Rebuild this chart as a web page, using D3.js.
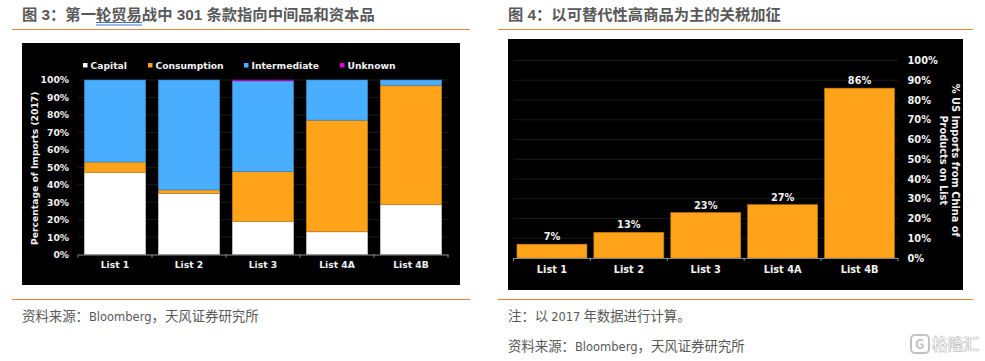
<!DOCTYPE html>
<html>
<head>
<meta charset="utf-8">
<script src="https://cdn.jsdelivr.net/npm/d3@7"></script>
<style>
html, body { margin: 0; padding: 0; background: #fff; }
svg { display: block; }
.cn { font-family: "Noto Sans CJK SC", sans-serif; }
.head { font-family: "Liberation Sans", "Noto Sans CJK SC", sans-serif; }
.latin { font-family: "DejaVu Sans", sans-serif; }
.chart text { font-family: "DejaVu Sans", sans-serif; font-weight: bold; fill: #f2f2f2; }
.left text { font-size: 9.2px; }
.right text { font-size: 9.8px; }
</style>
</head>
<body>
<svg width="985" height="361"></svg>
<script>
const lists = ['List 1', 'List 2', 'List 3', 'List 4A', 'List 4B']
const capital = [47, 35, 19, 13, 28.5]
const consumption = [6, 2, 28.5, 64, 68.5]
const intermediate = [47, 63, 52, 23, 3]
const unknown = [0, 0, 0.5, 0, 0]
const shares = [7, 13, 23, 27, 86]
const ticks = [0, 10, 20, 30, 40, 50, 60, 70, 80, 90, 100]

const seriesNames = ['Capital', 'Consumption', 'Intermediate', 'Unknown']
const seriesColors = ['#ffffff', '#ffa31a', '#4aaeff', '#e600d6']

const svg = d3.select('svg')
const orange = '#e8833a'
const gray = '#595959'

// headings, rules and notes
const heading = (x, y, t) => svg.append('text').attr('class', 'head')
	.attr('x', x).attr('y', y)
	.attr('font-size', 15.3).attr('font-weight', 700).attr('fill', gray)
	.text(t)
const note = (x, y, parts) => {
	const t = svg.append('text').attr('class', 'cn')
		.attr('x', x).attr('y', y)
		.attr('font-size', 13.4).attr('fill', gray)
	parts.forEach(p => {
		const s = t.append('tspan').text(p)
		if (/^[A-Za-z0-9 ]+$/.test(p)) s.attr('class', 'latin').attr('font-size', 11.5)
	})
}
const rule = (x1, x2, y) => svg.append('line')
	.attr('x1', x1).attr('x2', x2).attr('y1', y).attr('y2', y)
	.attr('stroke', orange).attr('stroke-width', 1)

heading(22, 20, '图 3\uFF1A第一轮贸易战中 301 条款指向中间品和资本品')
heading(508, 20, '图 4\uFF1A以可替代性高商品为主的关税加征')
rule(12, 470, 29.5)
rule(498, 973, 29.5)
rule(12, 470, 299.5)
rule(498, 973, 299.5)
note(22, 321, ['资料来源\uFF1A', 'Bloomberg', '\uFF0C天风证券研究所'])
note(508, 321, ['注\uFF1A以 ', '2017', ' 年数据进行计算。'])
note(508, 351, ['资料来源\uFF1A', 'Bloomberg', '\uFF0C天风证券研究所'])

// blue double underline below the linked words
;[22.5, 25].forEach(y => svg.append('line')
	.attr('x1', 96).attr('x2', 142).attr('y1', y).attr('y2', y)
	.attr('stroke', '#2f62c9').attr('stroke-width', 0.9))

const pct = d => d + '%'

// left chart: stacked shares
const left = svg.append('g').attr('class', 'chart left')
left.append('rect').attr('x', 22).attr('y', 43).attr('width', 438).attr('height', 242).attr('fill', '#000')

const x1 = d3.scaleBand().domain(lists).range([78, 448]).paddingInner(0.17).paddingOuter(0.085)
const y1 = d3.scaleLinear().domain([0, 100]).range([254.5, 80])

left.append('g').selectAll('line').data(ticks.slice(1)).enter().append('line')
	.attr('x1', 78).attr('x2', 448)
	.attr('y1', d => y1(d)).attr('y2', d => y1(d))
	.attr('stroke', '#1a1a1a')

const stacked = d3.stack().keys([0, 1, 2, 3])(lists.map((l, i) =>
	[capital[i], consumption[i], intermediate[i], unknown[i]]))

left.append('g').selectAll('g').data(stacked).enter().append('g')
	.attr('fill', (d, i) => seriesColors[i])
	.attr('stroke', (d, i) => d3.color(seriesColors[i]).darker(0.9))
	.attr('stroke-width', 0.6)
	.selectAll('rect').data(d => d).enter().append('rect')
	.attr('x', (d, i) => x1(lists[i]))
	.attr('width', x1.bandwidth())
	.attr('y', d => y1(d[1]))
	.attr('height', d => y1(d[0]) - y1(d[1]))

const xAxis1 = left.append('g').attr('transform', 'translate(0,254.5)')
	.call(d3.axisBottom(x1).tickSize(0).tickPadding(7))
xAxis1.select('.domain').attr('stroke', '#8c8c8c')
d3.range(6).forEach(i => left.append('line')
	.attr('x1', 78 + i * 74).attr('x2', 78 + i * 74).attr('y1', 254.5).attr('y2', 257.5)
	.attr('stroke', '#8c8c8c'))

const yAxis1 = left.append('g').attr('transform', 'translate(73,0)')
	.call(d3.axisLeft(y1).tickValues(ticks).tickFormat(pct).tickSize(0).tickPadding(4))
yAxis1.select('.domain').remove()

left.append('text')
	.attr('transform', `translate(38,${y1(50) + 1}) rotate(-90)`)
	.attr('text-anchor', 'middle')
	.text('Percentage of Imports (2017)')

const legendX = [83, 148, 244, 340]
seriesNames.forEach((n, i) => {
	left.append('rect').attr('x', legendX[i]).attr('y', 63).attr('width', 4.5).attr('height', 4.5).attr('fill', seriesColors[i])
	left.append('text').attr('x', legendX[i] + 7.5).attr('y', 69).text(n)
})

// right chart: single series
const right = svg.append('g').attr('class', 'chart right')
right.append('rect').attr('x', 508).attr('y', 39).attr('width', 455).attr('height', 251).attr('fill', '#000')

const x2 = d3.scaleBand().domain(lists).range([513.5, 898]).paddingInner(0.09).paddingOuter(0.045)
const y2 = d3.scaleLinear().domain([0, 100]).range([258, 60.5])

right.append('g').selectAll('line').data(ticks.slice(1)).enter().append('line')
	.attr('x1', 513.5).attr('x2', 898)
	.attr('y1', d => y2(d)).attr('y2', d => y2(d))
	.attr('stroke', '#1a1a1a')

right.append('g').selectAll('rect').data(shares).enter().append('rect')
	.attr('x', (d, i) => x2(lists[i]))
	.attr('width', x2.bandwidth())
	.attr('y', d => y2(d))
	.attr('height', d => y2(0) - y2(d))
	.attr('fill', seriesColors[1])
	.attr('stroke', d3.color(seriesColors[1]).darker(0.9))
	.attr('stroke-width', 0.6)

right.append('g').selectAll('text').data(shares).enter().append('text')
	.attr('x', (d, i) => x2(lists[i]) + x2.bandwidth() / 2)
	.attr('y', d => y2(d) - 4)
	.attr('text-anchor', 'middle')
	.text(pct)

const xAxis2 = right.append('g').attr('transform', 'translate(0,258)')
	.call(d3.axisBottom(x2).tickSize(0).tickPadding(8))
xAxis2.select('.domain').attr('stroke', '#8c8c8c')
d3.range(6).forEach(i => right.append('line')
	.attr('x1', 513.5 + i * 76.9).attr('x2', 513.5 + i * 76.9).attr('y1', 258).attr('y2', 261)
	.attr('stroke', '#8c8c8c'))

const yAxis2 = right.append('g').attr('transform', 'translate(907.5,0)')
	.call(d3.axisRight(y2).tickValues(ticks).tickFormat(pct).tickSize(0).tickPadding(0))
yAxis2.select('.domain').remove()

const yTitle = right.append('text')
	.attr('transform', `translate(952,${y2(50) + 1}) rotate(90)`)
	.attr('text-anchor', 'middle')
yTitle.append('tspan').attr('x', 0).attr('y', 0).text('% US Imports from China of')
yTitle.append('tspan').attr('x', 0).attr('y', 12.5).text('Products on List')

// watermark
const mark = svg.append('g').attr('opacity', 0.8)
mark.append('rect').attr('x', 911).attr('y', 335).attr('width', 18).attr('height', 18).attr('rx', 4)
	.attr('fill', '#fff').attr('stroke', '#b5b5b5').attr('stroke-width', 2)
mark.append('text').attr('class', 'cn').attr('x', 915).attr('y', 349)
	.attr('font-size', 13).attr('font-weight', 700).attr('fill', '#b5b5b5').text('G')
mark.append('text').attr('class', 'cn').attr('x', 932).attr('y', 350)
	.attr('font-size', 15.7).attr('font-weight', 700)
	.attr('fill', '#fff').attr('stroke', '#b5b5b5').attr('stroke-width', 0.7)
	.text('格隆汇')
</script>
</body>
</html>
